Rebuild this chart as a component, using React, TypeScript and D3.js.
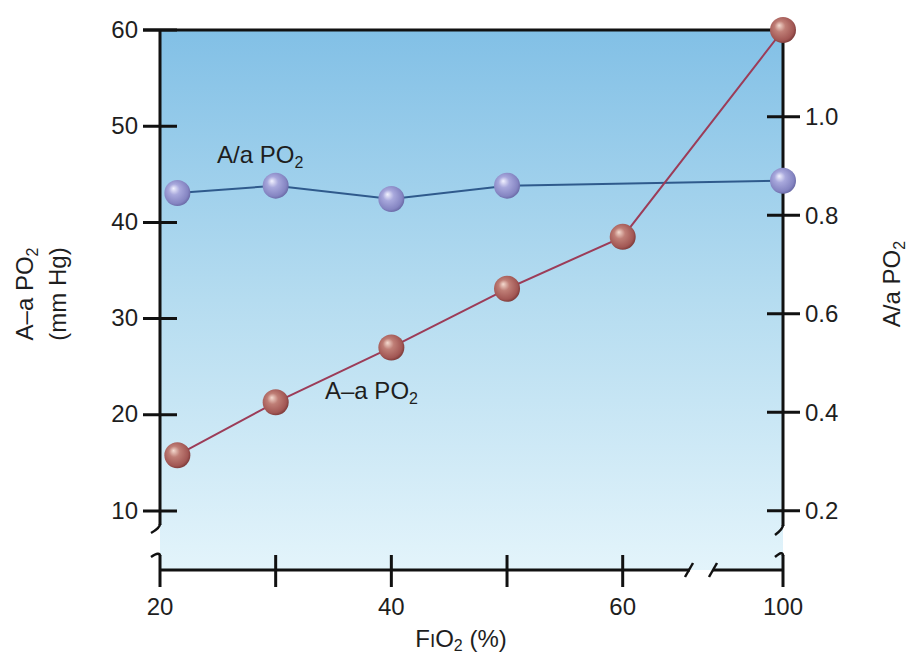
import React from 'react';
import * as d3 from 'd3';

// ---- data ----
const FIO2_GRADIENT_X = [21.5, 30, 40, 50, 60, 100];
const AA_GRADIENT = [15.8, 21.3, 27.0, 33.1, 38.5, 60.0];
const FIO2_RATIO_X = [21.5, 30, 40, 50, 100];
const AA_RATIO = [0.845, 0.86, 0.833, 0.86, 0.87];
const X_TICKS = [20, 30, 40, 50, 60, 100];
const X_TICK_LABELS = [20, 40, 60, 100];
const LEFT_TICKS = [10, 20, 30, 40, 50, 60];
const RIGHT_TICKS = [0.2, 0.4, 0.6, 0.8, 1.0];

const FONT = '"Liberation Sans", Arial, Helvetica, sans-serif';
const TXT = '#1e1e1e';
const AX = '#111';

export default function App() {
  const W = 909, H = 658;
  const left = 160, right = 783, top = 30, bottom = 570;
  const x = d3.scaleLinear().domain([20, 60, 100]).range([160, 622.7, 783]);
  const yL = d3.scaleLinear().domain([10, 60]).range([511, 30]);
  const yR = d3.scaleLinear().domain([0.2, 1.0]).range([510.7, 116.7]);

  const redPts = FIO2_GRADIENT_X.map((v, i) => [x(v), yL(AA_GRADIENT[i])] as [number, number]);
  const bluePts = FIO2_RATIO_X.map((v, i) => [x(v), yR(AA_RATIO[i])] as [number, number]);
  const line = d3.line();

  const fsz = 24;

  return (
    <svg width={W} height={H} style={{ position: 'absolute', left: 0, top: 0, background: '#fff' }}
      fontFamily={FONT}>
      <defs>
        <linearGradient id="bg" x1="0" y1="0" x2="0" y2="1">
          <stop offset="0" stopColor="#82c0e6" />
          <stop offset="0.5" stopColor="#b5dcf0" />
          <stop offset="1" stopColor="#e3f4fb" />
        </linearGradient>
        <radialGradient id="blueBall" cx="0.45" cy="0.45" r="0.6" fx="0.35" fy="0.32">
          <stop offset="0" stopColor="#f2f2ff" />
          <stop offset="0.35" stopColor="#a8a8dc" />
          <stop offset="0.8" stopColor="#8585c2" />
          <stop offset="1" stopColor="#62629e" />
        </radialGradient>
        <radialGradient id="redBall" cx="0.45" cy="0.45" r="0.6" fx="0.35" fy="0.32">
          <stop offset="0" stopColor="#f4dacf" />
          <stop offset="0.35" stopColor="#bf7e76" />
          <stop offset="0.8" stopColor="#a25754" />
          <stop offset="1" stopColor="#723232" />
        </radialGradient>
      </defs>

      {/* plot background */}
      <rect x={left} y={top} width={right - left} height={bottom - top} fill="url(#bg)" />

      {/* frame: top border and axes */}
      <g stroke={AX} strokeWidth={3} fill="none" strokeLinecap="butt">
        <line x1={143} y1={top} x2={right + 1.5} y2={top} />
        {/* left axis with break */}
        <line x1={left} y1={top} x2={left} y2={525} />
        <path d={`M${left},524 Q${left},528 151,533`} strokeWidth={2.5} />
        <path d={`M151,557 Q${left},551 ${left},556`} strokeWidth={2.5} />
        <line x1={left} y1={555} x2={left} y2={587} />
        {/* right axis with break */}
        <line x1={right} y1={top} x2={right} y2={526} />
        <path d={`M${right},525 Q${right},529 775,535`} strokeWidth={2.5} />
        <path d={`M775,557 Q${right},550 ${right},556`} strokeWidth={2.5} />
        <line x1={right} y1={555} x2={right} y2={587} />
        {/* bottom axis with break */}
        <line x1={left} y1={bottom} x2={690} y2={bottom} />
        <line x1={685} y1={577} x2={693} y2={563} strokeWidth={2.5} />
        <line x1={713} y1={bottom} x2={right} y2={bottom} />
        <line x1={709} y1={577} x2={717} y2={563} strokeWidth={2.5} />
      </g>

      {/* ticks */}
      <g stroke={AX} strokeWidth={3}>
        {LEFT_TICKS.map(t => (
          <line key={t} x1={143} x2={177} y1={yL(t)} y2={yL(t)} />
        ))}
        {RIGHT_TICKS.map(t => (
          <line key={t} x1={767} x2={800} y1={yR(t)} y2={yR(t)} />
        ))}
        {X_TICKS.filter(t => t !== 20 && t !== 100).map(t => (
          <line key={t} x1={x(t)} x2={x(t)} y1={555} y2={587} />
        ))}
      </g>

      {/* tick labels */}
      <g fill={TXT} fontSize={fsz}>
        {LEFT_TICKS.map(t => (
          <text key={t} x={138} y={yL(t) + 7.5} textAnchor="end">{t}</text>
        ))}
        {RIGHT_TICKS.map(t => (
          <text key={t} x={805} y={yR(t) + 8.5} textAnchor="start">{t.toFixed(1)}</text>
        ))}
        {X_TICK_LABELS.map(t => (
          <text key={t} x={x(t)} y={615} textAnchor="middle">{t}</text>
        ))}
      </g>

      {/* axis titles */}
      <text x={461} y={647} textAnchor="middle" fill={TXT} fontSize={fsz}>
        F<tspan fontSize={19}>I</tspan>O<tspan fontSize={16} dy={4}>2</tspan><tspan dy={-4}> (%)</tspan>
      </text>
      <g transform="translate(33,294) rotate(-90)">
        <text x={0} y={0} textAnchor="middle" fill={TXT} fontSize={fsz}>
          A–a PO<tspan fontSize={16} dy={5}>2</tspan>
        </text>
      </g>
      <g transform="translate(66,294) rotate(-90)">
        <text x={0} y={0} textAnchor="middle" fill={TXT} fontSize={fsz}>(mm Hg)</text>
      </g>
      <g transform="translate(900,284) rotate(-90)">
        <text x={0} y={0} textAnchor="middle" fill={TXT} fontSize={fsz}>
          A/a PO<tspan fontSize={16} dy={5}>2</tspan>
        </text>
      </g>

      {/* series lines */}
      <path d={line(bluePts) || ''} fill="none" stroke="#2f5a8c" strokeWidth={2} />
      <path d={line(redPts) || ''} fill="none" stroke="#9c3c58" strokeWidth={2} />

      {/* markers */}
      {bluePts.map((p, i) => (
        <circle key={'b' + i} cx={p[0]} cy={p[1]} r={13} fill="url(#blueBall)" />
      ))}
      {redPts.map((p, i) => (
        <circle key={'r' + i} cx={p[0]} cy={p[1]} r={13} fill="url(#redBall)" />
      ))}

      {/* series labels */}
      <text x={217} y={163} fill={TXT} fontSize={fsz}>
        A/a PO<tspan fontSize={16} dy={5}>2</tspan>
      </text>
      <text x={325} y={399} fill={TXT} fontSize={fsz}>
        A–a PO<tspan fontSize={16} dy={5}>2</tspan>
      </text>
    </svg>
  );
}
